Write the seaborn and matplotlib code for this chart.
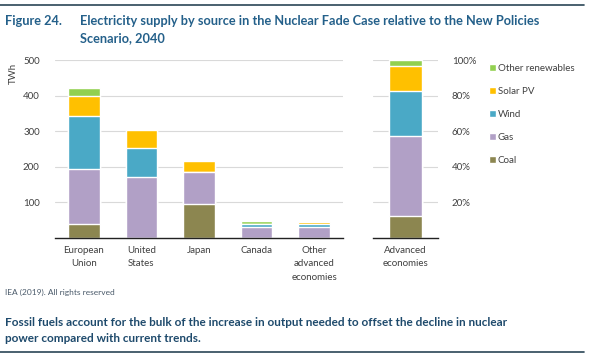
import numpy as np
import pandas as pd
import matplotlib
matplotlib.use("Agg")
import matplotlib.pyplot as plt
import seaborn as sns

# data (TWh, 2040, Nuclear Fade Case vs New Policies Scenario)
regions = ["European\nUnion", "United\nStates", "Japan", "Canada", "Other\nadvanced\neconomies"]
sources = ["Coal", "Gas", "Wind", "Solar PV", "Other renewables"]
coal = [40, 0, 96, 0, 0]
gas = [154, 170, 88, 30, 31]
wind = [150, 84, 0, 9, 8]
solar = [55, 50, 31, 0, 5]
other_ren = [23, 0, 0, 9, 0]

adv_label = ["Advanced\neconomies"]
adv_share = [12.1, 45.4, 25.3, 13.8, 3.4]  # % of total

colors = ["#8c8650", "#b1a0c6", "#4aa9c6", "#ffc000", "#92d050"]
title_col = "#24608a"
text_col = "#404040"

sns.set_theme(style="white")
plt.rcParams['font.family'] = ['Lato', 'DejaVu Sans']

fig = plt.figure(figsize=(5.9, 3.57), dpi=100)
ax = fig.add_axes([0.0932, 0.3339, 0.4881, 0.4972])
ax2 = fig.add_axes([0.6322, 0.3339, 0.1102, 0.4972])

layers = [coal, gas, wind, solar, other_ren]
cum = np.cumsum(np.array(layers), axis=0)
df = pd.DataFrame(cum.T, columns=sources)
df["region"] = regions

# draw cumulative totals from the top layer down so they stack
for i in range(len(sources) - 1, -1, -1):
    sns.barplot(data=df, x="region", y=sources[i], color=colors[i], width=0.55,
                saturation=1, ax=ax, zorder=2)

adv_cum = np.cumsum(adv_share)
df2 = pd.DataFrame({"region": adv_label * len(sources), "source": sources, "val": adv_cum})
for i in range(len(sources) - 1, -1, -1):
    sns.barplot(data=df2[df2["source"] == sources[i]], x="region", y="val",
                color=colors[i], width=0.51, saturation=1, ax=ax2, zorder=2,
                label=sources[i])

for a, lim, ticks in [(ax, 500, [100, 200, 300, 400, 500]), (ax2, 100, [20, 40, 60, 80, 100])]:
    a.set_ylim(0, lim)
    a.set_yticks(ticks)
    a.set_xlabel("")
    a.set_ylabel("")
    a.grid(axis="y", color="#d9d9d9", linewidth=0.8, zorder=0)
    a.set_axisbelow(True)
    for s in ["left", "right", "top"]:
        a.spines[s].set_visible(False)
    a.spines["bottom"].set_color("#222222")
    a.spines["bottom"].set_linewidth(1.0)
    a.tick_params(axis="both", length=0, labelsize=7, colors=text_col)
    a.tick_params(axis="x", pad=6)

ax.tick_params(axis="y", pad=11)
ax2.yaxis.tick_right()
ax2.set_yticklabels([f"{t}%" for t in [20, 40, 60, 80, 100]])
ax2.tick_params(axis="y", pad=10)
ax.set_xlim(-0.5, 4.5)
ax2.set_xlim(-0.5, 0.5)
for lab in ax.get_xticklabels() + ax2.get_xticklabels():
    lab.set_linespacing(1.6)

handles, labels = ax2.get_legend_handles_labels()
ax2.legend(handles, labels, loc="upper left", bbox_to_anchor=(1.65, 1.03), frameon=False,
           fontsize=7, handlelength=0.75, handleheight=0.75, handletextpad=0.15,
           labelspacing=1.45, labelcolor=text_col)

fig.text(0.022, 0.795, "TWh", rotation=90, fontsize=7, color=text_col, ha="center", va="center")

# titles, source, caption
fig.add_artist(plt.Line2D([0, 0.99], [0.985, 0.985], color="#2a4656", linewidth=1.2))
fig.add_artist(plt.Line2D([0, 0.99], [0.013, 0.013], color="#2a4656", linewidth=1.2))
fig.text(0.009, 0.94, "Figure 24.", fontsize=9.2, color=title_col, fontweight="bold", va="center")
fig.text(0.136, 0.94, "Electricity supply by source in the Nuclear Fade Case relative to the New Policies",
         fontsize=9.2, color=title_col, fontweight="bold", va="center")
fig.text(0.136, 0.893, "Scenario, 2040", fontsize=9.2, color=title_col, fontweight="bold", va="center")
fig.text(0.009, 0.182, "IEA (2019). All rights reserved", fontsize=6, color="#4a5a6a", va="center")
fig.text(0.009, 0.098, "Fossil fuels account for the bulk of the increase in output needed to offset the decline in nuclear",
         fontsize=8.5, color="#1e4a6c", fontweight="bold", va="center")
fig.text(0.009, 0.052, "power compared with current trends.",
         fontsize=8.5, color="#1e4a6c", fontweight="bold", va="center")

fig.savefig("out.png", dpi=100)
